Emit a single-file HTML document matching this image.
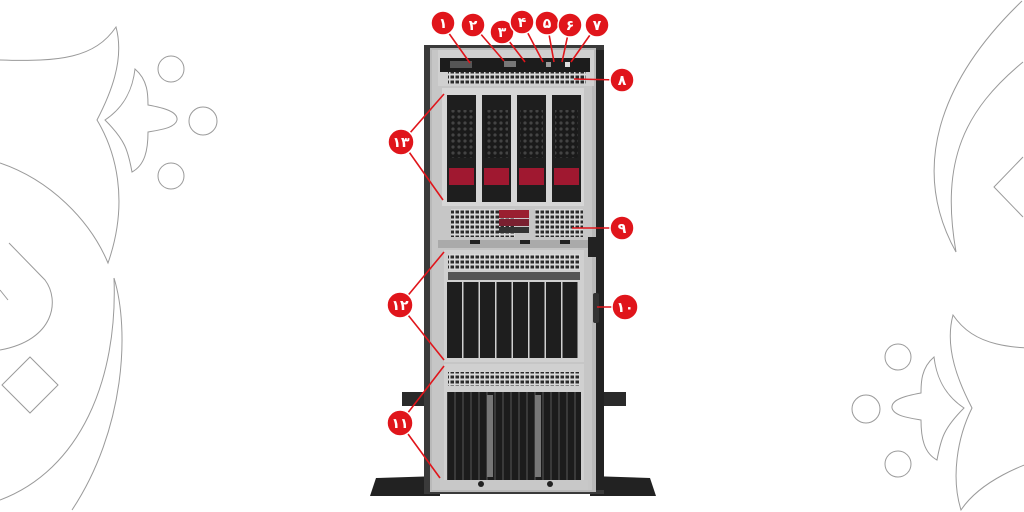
<!DOCTYPE html>
<html><head><meta charset="utf-8"><style>
html,body{margin:0;padding:0;background:#fff;width:1024px;height:512px;overflow:hidden;}
svg{display:block}
</style></head><body>
<svg width="1024" height="512" viewBox="0 0 1024 512" xmlns="http://www.w3.org/2000/svg">
<defs>
<pattern id="vent" width="5" height="5" patternUnits="userSpaceOnUse"><rect width="5" height="5" fill="#d8d8d8"/><rect x="0.5" y="0.5" width="3.5" height="3" fill="#2a2a2a"/></pattern>
<pattern id="hex" width="6" height="6" patternUnits="userSpaceOnUse"><rect width="6" height="6" fill="#1a1a1a"/><circle cx="3" cy="3" r="1.6" fill="#444"/></pattern>
<pattern id="stripe" width="8" height="10" patternUnits="userSpaceOnUse"><rect width="8" height="10" fill="#1c1c1c"/><rect x="6" width="2" height="10" fill="#3a3a3a"/></pattern>
</defs>
<g fill="none" stroke="#9a9a9a" stroke-width="1">
<path d="M0,60 C60,62 95,58 116,27 C125,60 110,95 97,120 C115,150 130,200 108,263 C90,220 50,180 0,163"/>
<path d="M135,69 C148,80 148,95 148,105 C165,108 178,112 177,120 C175,128 160,130 148,132 C148,150 145,165 132,172 C128,150 125,140 105,120 C120,110 132,95 135,69 Z"/>
<circle cx="171" cy="69" r="13"/><circle cx="203" cy="121" r="14"/><circle cx="171" cy="176" r="13"/>
<path d="M114,278 C130,330 125,430 72,510"/>
<path d="M114,278 C118,380 80,470 0,500"/>
<path d="M9,243 L45,280 C60,300 55,340 0,350"/>
<path d="M0,290 L8,300"/>
<path d="M30,357 L58,385 L30,413 L2,385 Z"/>
</g>
<g fill="none" stroke="#9a9a9a" stroke-width="1" transform="translate(1069,288) scale(-1,1)">
<path d="M0,60 C60,62 95,58 116,27 C125,60 110,95 97,120 C112,150 118,190 108,222 C90,195 50,175 0,163"/>
<path d="M135,69 C148,80 148,95 148,105 C165,108 178,112 177,120 C175,128 160,130 148,132 C148,150 145,165 132,172 C128,150 125,140 105,120 C120,110 132,95 135,69 Z"/>
<circle cx="171" cy="69" r="13"/><circle cx="203" cy="121" r="14"/><circle cx="171" cy="176" r="13"/>
</g>
<g fill="none" stroke="#9a9a9a" stroke-width="1">
<path d="M1022,1 C950,70 905,160 956,252 C940,160 965,110 1023,62"/>
<path d="M1023,157 L994,187 L1023,217"/>
</g>
<path d="M370,496 L376,478 L440,476 L440,496 Z" fill="#222"/>
<path d="M656,496 L650,478 L590,476 L590,496 Z" fill="#222"/>
<rect x="402" y="392" width="24" height="14" fill="#2a2a2a"/>
<rect x="600" y="392" width="26" height="14" fill="#2a2a2a"/>
<rect x="424" y="45" width="180" height="449" fill="#3a3a3a"/>
<rect x="430" y="48" width="166" height="444" fill="#b9b9b9"/>
<rect x="432" y="50" width="160" height="440" fill="#c6c6c6"/>
<rect x="596" y="50" width="8" height="440" fill="#222"/>
<rect x="438" y="50" width="156" height="36" fill="#d0d0d0"/>
<rect x="440" y="58" width="150" height="14" fill="#1c1c1c"/>
<rect x="450" y="61" width="22" height="7" fill="#555"/>
<rect x="504" y="61" width="12" height="6" fill="#777"/>
<rect x="546" y="62" width="5" height="5" fill="#999"/><rect x="565" y="62" width="5" height="5" fill="#ddd"/>
<rect x="448" y="72" width="138" height="12" fill="url(#vent)"/>
<rect x="442" y="88" width="142" height="118" fill="#d6d6d6"/>
<g>
<rect x="447" y="95" width="29" height="107" fill="#1e1e1e"/><rect x="450" y="110" width="23" height="48" fill="url(#hex)"/><rect x="449" y="168" width="25" height="17" fill="#a01830"/>
<rect x="482" y="95" width="29" height="107" fill="#1e1e1e"/><rect x="485" y="110" width="23" height="48" fill="url(#hex)"/><rect x="484" y="168" width="25" height="17" fill="#a01830"/>
<rect x="517" y="95" width="29" height="107" fill="#1e1e1e"/><rect x="520" y="110" width="23" height="48" fill="url(#hex)"/><rect x="519" y="168" width="25" height="17" fill="#a01830"/>
<rect x="552" y="95" width="29" height="107" fill="#1e1e1e"/><rect x="555" y="110" width="23" height="48" fill="url(#hex)"/><rect x="554" y="168" width="25" height="17" fill="#a01830"/>
</g>
<rect x="451" y="209" width="64" height="28" fill="url(#vent)"/>
<rect x="535" y="209" width="48" height="28" fill="url(#vent)"/>
<rect x="499" y="210" width="30" height="8" fill="#9a2030"/><rect x="499" y="219" width="30" height="7" fill="#7a2030"/><rect x="499" y="227" width="30" height="6" fill="#333"/>
<rect x="438" y="240" width="152" height="8" fill="#aaa"/>
<rect x="470" y="240" width="10" height="4" fill="#222"/><rect x="520" y="240" width="10" height="4" fill="#222"/><rect x="560" y="240" width="10" height="4" fill="#222"/>
<rect x="588" y="237" width="8" height="20" fill="#222"/>
<rect x="444" y="250" width="140" height="112" fill="#d0d0d0"/>
<rect x="448" y="254" width="132" height="16" fill="url(#vent)"/>
<rect x="448" y="272" width="132" height="8" fill="#555"/>
<g fill="#1e1e1e">
<rect x="447" y="282" width="15" height="76"/><rect x="463.5" y="282" width="15" height="76"/><rect x="480" y="282" width="15" height="76"/><rect x="496.5" y="282" width="15" height="76"/>
<rect x="513" y="282" width="15" height="76"/><rect x="529.5" y="282" width="15" height="76"/><rect x="546" y="282" width="15" height="76"/><rect x="562.5" y="282" width="15" height="76"/>
</g>
<rect x="593" y="293" width="6" height="30" rx="2" fill="#333"/>
<rect x="444" y="364" width="140" height="126" fill="#d0d0d0"/>
<rect x="448" y="372" width="132" height="14" fill="url(#vent)"/>
<rect x="447" y="392" width="134" height="88" fill="url(#stripe)"/>
<rect x="487" y="395" width="6" height="82" fill="#777"/><rect x="535" y="395" width="6" height="82" fill="#777"/>
<rect x="440" y="480" width="148" height="10" fill="#c8c8c8"/>
<circle cx="481" cy="484" r="3" fill="#222"/><circle cx="550" cy="484" r="3" fill="#222"/>
<g stroke="#e0151b" stroke-width="1.6" fill="none">
<line x1="443" y1="25" x2="470" y2="63"/>
<line x1="473" y1="25" x2="504" y2="61"/>
<line x1="502" y1="32" x2="525" y2="62"/>
<line x1="522" y1="22" x2="543" y2="62"/>
<line x1="547" y1="23" x2="554" y2="62"/>
<line x1="570" y1="25" x2="562" y2="62"/>
<line x1="597" y1="25" x2="571" y2="62"/>
<line x1="620" y1="80" x2="574" y2="79"/>
<line x1="402" y1="142" x2="444" y2="94"/>
<line x1="402" y1="142" x2="443" y2="200"/>
<line x1="622" y1="228" x2="572" y2="228"/>
<line x1="400" y1="305" x2="444" y2="252"/>
<line x1="400" y1="305" x2="444" y2="360"/>
<line x1="623" y1="307" x2="597" y2="307"/>
<line x1="400" y1="423" x2="444" y2="366"/>
<line x1="400" y1="423" x2="440" y2="478"/>
</g>
<g fill="#e0151b" stroke="#fff" stroke-width="1.5">
<circle cx="443" cy="23" r="12"/><circle cx="473" cy="25" r="12"/><circle cx="502" cy="32" r="12"/><circle cx="522" cy="22" r="12"/>
<circle cx="547" cy="23" r="12"/><circle cx="570" cy="25" r="12"/><circle cx="597" cy="25" r="12"/><circle cx="622" cy="80" r="12"/>
<circle cx="401" cy="142" r="13"/><circle cx="622" cy="228" r="12"/><circle cx="400" cy="305" r="13"/><circle cx="625" cy="307" r="13"/><circle cx="400" cy="423" r="13"/>
</g>
<g fill="#fff" font-family="'Liberation Sans','DejaVu Sans',sans-serif" font-weight="bold" font-size="14" text-anchor="middle">
<text x="443" y="28">١</text><text x="473" y="30">٢</text><text x="502" y="37">٣</text><text x="522" y="27">۴</text>
<text x="547" y="28">۵</text><text x="570" y="30">۶</text><text x="597" y="30">٧</text><text x="622" y="85">٨</text>
<text x="401" y="147">١٣</text><text x="622" y="233">٩</text><text x="400" y="310">١٢</text><text x="625" y="312">١٠</text><text x="400" y="428">١١</text>
</g>
</svg>
</body></html>
